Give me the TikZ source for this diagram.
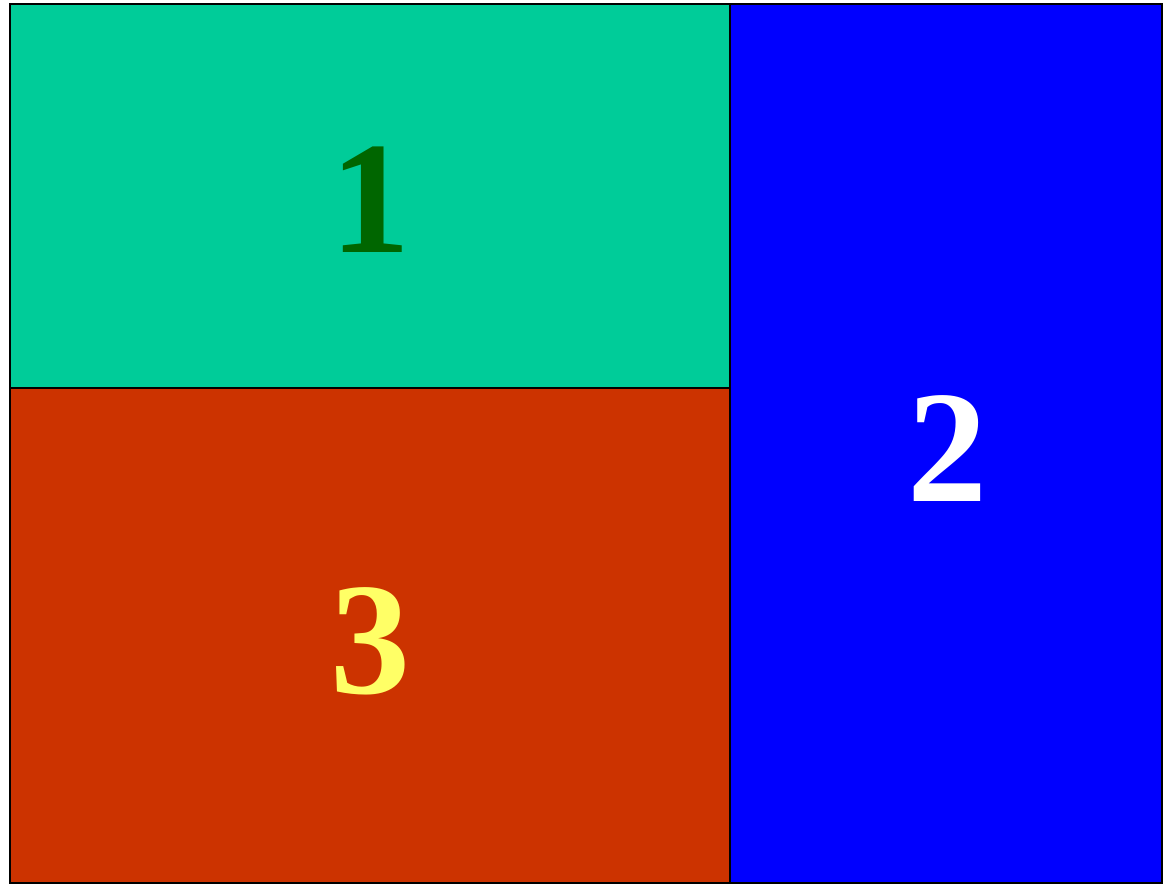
\documentclass[tikz,border=0pt]{standalone}
\usepackage{fontspec}
\setmainfont{Liberation Serif}[BoldFont={Liberation Serif Bold}]
\definecolor{cteal}{HTML}{00CC99}
\definecolor{cblue}{HTML}{0000FF}
\definecolor{cred}{HTML}{CC3300}
\definecolor{cdgreen}{HTML}{006600}
\definecolor{cyel}{HTML}{FFFF66}
\begin{document}
\begin{tikzpicture}[x=1pt,y=-1pt,
  panel/.style={draw=black,line width=1.5pt},
  num/.style={font=\bfseries\fontsize{160}{160}\selectfont,inner sep=0pt}]
\useasboundingbox (0,0) rectangle (1168,884);
\path[panel,fill=cteal] (10,4) rectangle (730,388);
\path[panel,fill=cred] (10,388) rectangle (730,883);
\path[panel,fill=cblue] (730,4) rectangle (1162,883);
\node[num,text=cdgreen] (n1) at (370,200) {1};
\node[num,text=white] (n2) at (947,449) {2};
\node[num,text=cyel] (n3) at (370,641) {3};
\end{tikzpicture}
\end{document}
